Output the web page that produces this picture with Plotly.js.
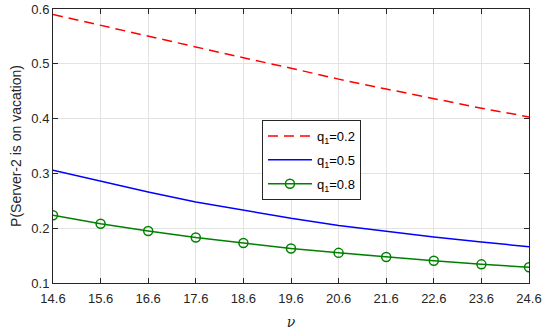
<!DOCTYPE html>
<html><head><meta charset="utf-8">
<script src="https://cdn.plot.ly/plotly-3.0.1.min.js"></script>
<style>body{margin:0;padding:0;background:#fff}#chart{width:550px;height:331px}</style>
</head><body><div id="chart"></div>
<script>
const nu = [14.6, 15.6, 16.6, 17.6, 18.6, 19.6, 20.6, 21.6, 22.6, 23.6, 24.6];
const q02 = [0.590, 0.570, 0.550, 0.530, 0.511, 0.492, 0.472, 0.454, 0.436, 0.419, 0.403];
const q05 = [0.306, 0.286, 0.266, 0.248, 0.233, 0.218, 0.205, 0.194, 0.184, 0.175, 0.166];
const q08 = [0.2235, 0.208, 0.195, 0.183, 0.173, 0.163, 0.155, 0.1475, 0.1407, 0.134, 0.1287];
const names = ['q<sub>1</sub>=0.2', 'q<sub>1</sub>=0.5', 'q<sub>1</sub>=0.8'];
const xticks = nu;
const yticks = [0.1, 0.2, 0.3, 0.4, 0.5, 0.6];

const traces = [
  {x: nu, y: q02, name: names[0], legendgroup: 'a', mode: 'lines', line: {color: '#ff0000', width: 1.5, dash: '10px,6px'}},
  {x: nu, y: q05, name: names[1], legendgroup: 'b', mode: 'lines', line: {color: '#0000ff', width: 1.5}},
  {x: nu, y: q08, name: names[2], legendgroup: 'c', mode: 'lines+markers', line: {color: '#008000', width: 1.5},
   marker: {symbol: 'circle-open', size: 9, color: '#008000', line: {width: 1.5, color: '#008000'}}}
];
const font = {family: 'Liberation Sans, Arial, sans-serif', size: 13, color: '#262626'};
const layout = {
  width: 550, height: 331,
  margin: {l: 53, r: 21, t: 9, b: 48},
  paper_bgcolor: '#fff', plot_bgcolor: '#fff',
  font: font,
  showlegend: true,
  legend: {x: 0.439, y: 0.595, xanchor: 'left', yanchor: 'top', bordercolor: '#262626', borderwidth: 1,
    bgcolor: '#fff', font: {family: font.family, size: 13, color: '#000'}, tracegroupgap: 4,
    traceorder: 'grouped', itemwidth: 44},
  xaxis: {
    range: [14.6, 24.6], tickvals: xticks, ticktext: xticks.map(v => v.toFixed(1)),
    showgrid: true, gridcolor: '#e3e3e3', gridwidth: 1,
    showline: true, linecolor: '#262626', linewidth: 1, mirror: 'ticks',
    ticks: 'inside', ticklen: 5, tickcolor: '#262626', zeroline: false, ticklabelstandoff: 3,
    title: {text: '<i>ν</i>', font: {family: 'DejaVu Serif, serif', size: 14, color: '#262626'}, standoff: 12}
  },
  yaxis: {
    range: [0.1, 0.6], tickvals: yticks, ticktext: yticks.map(v => v.toFixed(1)),
    showgrid: true, gridcolor: '#e3e3e3', gridwidth: 1,
    showline: true, linecolor: '#262626', linewidth: 1, mirror: 'ticks',
    ticks: 'inside', ticklen: 5, tickcolor: '#262626', zeroline: false,
    title: {text: 'P(Server-2 is on vacation)', font: {family: font.family, size: 14, color: '#262626'}, standoff: 6}
  }
};
Plotly.newPlot('chart', traces, layout, {displayModeBar: false, staticPlot: true});
</script></body></html>
